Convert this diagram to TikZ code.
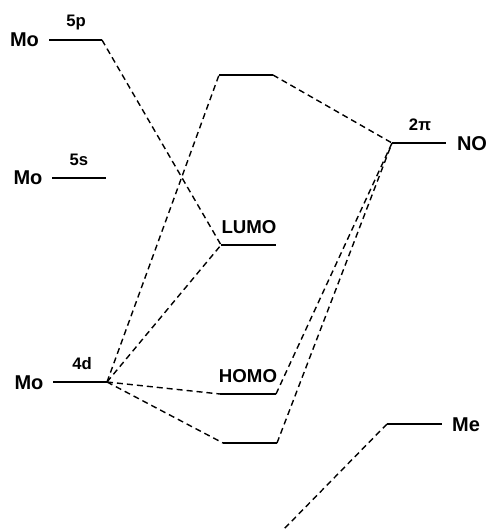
\documentclass[tikz,border=0pt]{standalone}
\usepackage{fontspec}
\setmainfont{Liberation Sans}
\begin{document}
\begin{tikzpicture}[x=0.75pt,y=-0.75pt,
  level/.style={line width=1.4pt},
  corr/.style={line width=1.05pt,dash pattern=on 4.5pt off 3pt},
  big/.style={font=\fontsize{15}{15}\selectfont\bfseries,inner sep=0pt},
  mid/.style={font=\fontsize{14}{14}\selectfont\bfseries,inner sep=0pt},
  small/.style={font=\fontsize{12.5}{12.5}\selectfont\bfseries,inner sep=0pt}]
\useasboundingbox (0,0) rectangle (487,531);
% level end points
\coordinate (p5L) at (49,40);  \coordinate (p5R) at (102,40);
\coordinate (s5L) at (52,178); \coordinate (s5R) at (106,178);
\coordinate (d4L) at (53,382); \coordinate (d4R) at (107,382);
\coordinate (topL) at (219,75); \coordinate (topR) at (273,75);
\coordinate (lumoL) at (221,245); \coordinate (lumoR) at (276,245);
\coordinate (homoL) at (220,394); \coordinate (homoR) at (276,394);
\coordinate (botL) at (223,443); \coordinate (botR) at (277,443);
\coordinate (noL) at (392,143); \coordinate (noR) at (446,143);
\coordinate (meL) at (387,424); \coordinate (meR) at (442,424);
\coordinate (meEnd) at (282,531);
% levels
\foreach \a in {p5,s5,d4,top,lumo,homo,bot,no,me}
  \draw[level] (\a L) -- (\a R);
% labels
\node[big] (mo1) at (24.5,40) {Mo};
\node[small] (l5p) at (76,22) {5p};
\node[big] (mo2) at (28,178) {Mo};
\node[small] (l5s) at (79,160) {5s};
\node[big] (mo3) at (29,383) {Mo};
\node[small] (l4d) at (82,364) {4d};
\node[mid] (llumo) at (249,227) {LUMO};
\node[mid] (lhomo) at (248,376) {HOMO};
\node[small] (l2pi) at (420,125) {2π};
\node[big] (lno) at (472,144) {NO};
\node[big] (lme) at (466,425) {Me};
% correlation lines
\draw[corr] (p5R) -- (lumoL);
\draw[corr] (d4R) -- (topL);
\draw[corr] (d4R) -- (lumoL);
\draw[corr] (d4R) -- (homoL);
\draw[corr] (d4R) -- (botL);
\draw[corr] (topR) -- (noL);
\draw[corr] (homoR) -- (noL);
\draw[corr] (botR) -- (noL);
\draw[corr] (meL) -- (meEnd);
\end{tikzpicture}
\end{document}
